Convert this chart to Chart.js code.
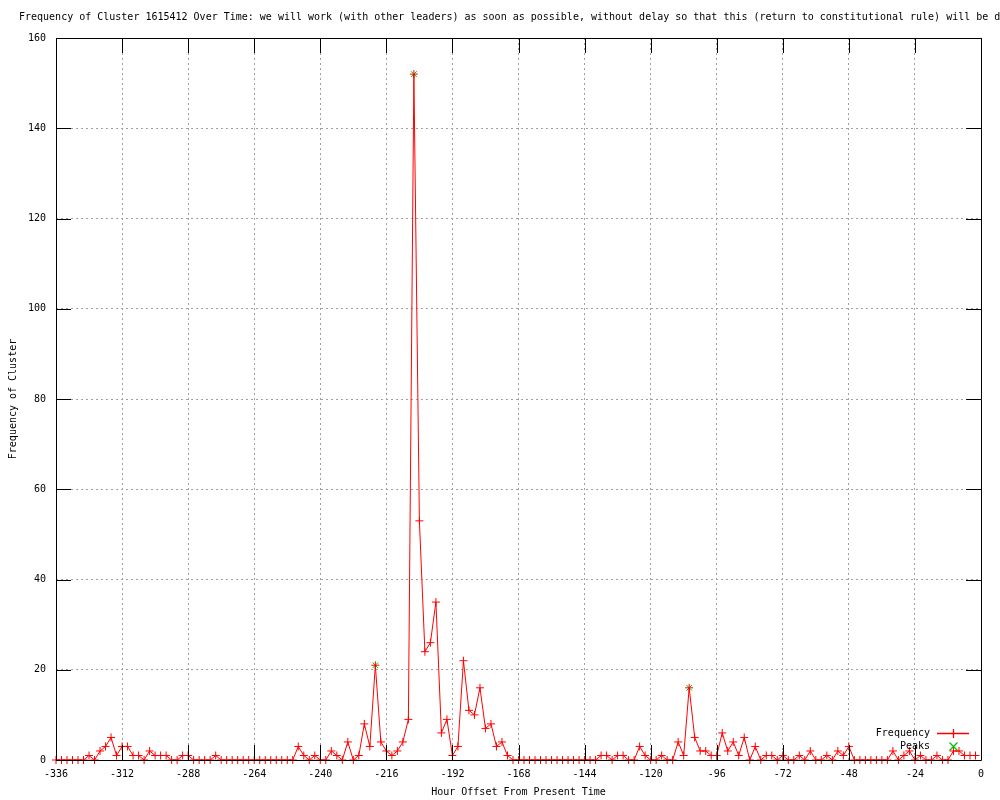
<!DOCTYPE html>
<html>
<head>
<meta charset="utf-8">
<title>Frequency of Cluster 1615412 Over Time</title>
<script src="https://cdn.jsdelivr.net/npm/chart.js@4"></script>
<style>
  html, body { margin: 0; padding: 0; background: #fff; }
  #chart { display: block; }
</style>
</head>
<body>
<canvas id="chart" width="1000" height="800"></canvas>
<script>
// Frequency of cluster, one sample every 2 hours
const hours = [
  -336, -334, -332, -330, -328, -326, -324, -322, -320, -318, -316, -314,
  -312, -310, -308, -306, -304, -302, -300, -298, -296, -294, -292, -290,
  -288, -286, -284, -282, -280, -278, -276, -274, -272, -270, -268, -266,
  -264, -262, -260, -258, -256, -254, -252, -250, -248, -246, -244, -242,
  -240, -238, -236, -234, -232, -230, -228, -226, -224, -222, -220, -218,
  -216, -214, -212, -210, -208, -206, -204, -202, -200, -198, -196, -194,
  -192, -190, -188, -186, -184, -182, -180, -178, -176, -174, -172, -170,
  -168, -166, -164, -162, -160, -158, -156, -154, -152, -150, -148, -146,
  -144, -142, -140, -138, -136, -134, -132, -130, -128, -126, -124, -122,
  -120, -118, -116, -114, -112, -110, -108, -106, -104, -102, -100, -98,
  -96, -94, -92, -90, -88, -86, -84, -82, -80, -78, -76, -74,
  -72, -70, -68, -66, -64, -62, -60, -58, -56, -54, -52, -50,
  -48, -46, -44, -42, -40, -38, -36, -34, -32, -30, -28, -26,
  -24, -22, -20, -18, -16, -14, -12, -10, -8, -6, -4, -2
];
const frequency = [
  0, 0, 0, 0, 0, 0, 1, 0, 2, 3, 5, 1,
  3, 3, 1, 1, 0, 2, 1, 1, 1, 0, 0, 1,
  1, 0, 0, 0, 0, 1, 0, 0, 0, 0, 0, 0,
  0, 0, 0, 0, 0, 0, 0, 0, 3, 1, 0, 1,
  0, 0, 2, 1, 0, 4, 0, 1, 8, 3, 21, 4,
  2, 1, 2, 4, 9, 152, 53, 24, 26, 35, 6, 9,
  1, 3, 22, 11, 10, 16, 7, 8, 3, 4, 1, 0,
  0, 0, 0, 0, 0, 0, 0, 0, 0, 0, 0, 0,
  0, 0, 0, 1, 1, 0, 1, 1, 0, 0, 3, 1,
  0, 0, 1, 0, 0, 4, 1, 16, 5, 2, 2, 1,
  1, 6, 2, 4, 1, 5, 0, 3, 0, 1, 1, 0,
  1, 0, 0, 1, 0, 2, 0, 0, 1, 0, 2, 1,
  3, 0, 0, 0, 0, 0, 0, 0, 2, 0, 1, 2,
  0, 1, 0, 0, 1, 0, 0, 2, 2, 1, 1, 1
];
const peakHours = [-220, -206, -106];
const peakValues = [21, 152, 16];

const xTicks = [-336, -312, -288, -264, -240, -216, -192, -168, -144, -120, -96, -72, -48, -24, 0];
const yTicks = [0, 20, 40, 60, 80, 100, 120, 140, 160];

const titleText = 'Frequency of Cluster 1615412 Over Time: we will work (with other leaders) as soon as possible, without delay so that this (return to constitutional rule) will be done';

const FONT = '"DejaVu Sans Mono", "Liberation Mono", monospace';
const RED = '#ff0000';
const GREEN = '#00c000';

// frame with inward tics like gnuplot
const gnuplotFrame = {
    id: 'gnuplotFrame',
    afterDatasetsDraw(chart) {
        const ctx = chart.ctx;
        const a = chart.chartArea;
        const xs = chart.scales.x;
        const ys = chart.scales.y;
        const tic = 15;
        ctx.save();
        ctx.strokeStyle = '#000';
        ctx.lineWidth = 1;
        ctx.setLineDash([]);
        ctx.beginPath();
        ctx.rect(Math.round(a.left) + 0.5, Math.round(a.top) + 0.5,
                 Math.round(a.right - a.left), Math.round(a.bottom - a.top));
        xTicks.forEach(v => {
            const px = Math.round(xs.getPixelForValue(v)) + 0.5;
            ctx.moveTo(px, a.bottom);
            ctx.lineTo(px, a.bottom - tic);
            ctx.moveTo(px, a.top);
            ctx.lineTo(px, a.top + tic);
        });
        yTicks.forEach(v => {
            const py = Math.round(ys.getPixelForValue(v)) + 0.5;
            ctx.moveTo(a.left, py);
            ctx.lineTo(a.left + tic, py);
            ctx.moveTo(a.right, py);
            ctx.lineTo(a.right - tic, py);
        });
        ctx.stroke();
        ctx.restore();
    },
    afterDraw(chart) {
        const ctx = chart.ctx;
        const a = chart.chartArea;
        ctx.save();
        ctx.font = '10px ' + FONT;
        ctx.fillStyle = '#000';
        ctx.textAlign = 'left';
        ctx.textBaseline = 'middle';
        ctx.fillText(titleText, 19, 17);

        // legend, bottom right inside the plot
        ctx.textAlign = 'right';
        const lx = a.right - 51;
        const sx = Math.round(a.right - 28);
        const y1 = Math.round(a.bottom - 27);
        const y2 = Math.round(a.bottom - 14);
        ctx.fillText('Frequency', lx, y1);
        ctx.fillText('Peaks', lx, y2);

        ctx.setLineDash([]);
        ctx.lineWidth = 1.3;
        ctx.strokeStyle = RED;
        ctx.beginPath();
        ctx.moveTo(Math.round(a.right - 44), y1 + 0.5);
        ctx.lineTo(Math.round(a.right - 12), y1 + 0.5);
        ctx.moveTo(sx + 0.5, y1 - 4);
        ctx.lineTo(sx + 0.5, y1 + 5);
        ctx.stroke();

        ctx.strokeStyle = GREEN;
        ctx.lineWidth = 1.2;
        ctx.beginPath();
        ctx.moveTo(sx - 3.5, y2 - 3.5);
        ctx.lineTo(sx + 4.5, y2 + 4.5);
        ctx.moveTo(sx + 4.5, y2 - 3.5);
        ctx.lineTo(sx - 3.5, y2 + 4.5);
        ctx.stroke();
        ctx.restore();
    }
};

const ctx = document.getElementById('chart').getContext('2d');
new Chart(ctx, {
    type: 'line',
    data: {
        datasets: [{
            label: 'Frequency',
            data: hours.map((h, i) => ({ x: h, y: frequency[i] })),
            borderColor: RED,
            borderWidth: 1,
            pointStyle: 'cross',
            pointRadius: 4,
            pointBorderColor: RED,
            pointBorderWidth: 1,
            pointBackgroundColor: RED,
            tension: 0,
            fill: false,
            clip: false
        }, {
            label: 'Peaks',
            data: peakHours.map((h, i) => ({ x: h, y: peakValues[i] })),
            showLine: false,
            pointStyle: 'crossRot',
            pointRadius: 4,
            pointBorderColor: GREEN,
            pointBorderWidth: 1,
            clip: false
        }]
    },
    options: {
        responsive: false,
        animation: false,
        devicePixelRatio: 1,
        layout: { padding: { top: 38, right: 19, left: 0, bottom: 0 } },
        plugins: {
            legend: { display: false },
            tooltip: { enabled: false },
            title: { display: false }
        },
        scales: {
            x: {
                type: 'linear',
                min: -336,
                max: 0,
                afterBuildTicks: s => { s.ticks = xTicks.map(v => ({ value: v })); },
                afterFit: s => { s.height = 40; },
                grid: { color: '#a0a0a0', lineWidth: 1, drawTicks: false },
                border: { display: false, dash: [2, 3] },
                ticks: {
                    color: '#000',
                    font: { family: FONT, size: 10 },
                    padding: 8,
                    maxRotation: 0,
                    autoSkip: false
                },
                title: {
                    display: true,
                    text: 'Hour Offset From Present Time',
                    color: '#000',
                    font: { family: FONT, size: 10 },
                    padding: { top: 0, bottom: 2 }
                }
            },
            y: {
                min: 0,
                max: 160,
                afterBuildTicks: s => { s.ticks = yTicks.map(v => ({ value: v })); },
                afterFit: s => { s.width = 56; },
                grid: { color: '#a0a0a0', lineWidth: 1, drawTicks: false },
                border: { display: false, dash: [2, 3] },
                ticks: {
                    color: '#000',
                    font: { family: FONT, size: 10 },
                    padding: 10
                },
                title: {
                    display: true,
                    text: 'Frequency of Cluster',
                    color: '#000',
                    font: { family: FONT, size: 10 },
                    padding: { top: 7, bottom: 0 }
                }
            }
        }
    },
    plugins: [gnuplotFrame]
});
</script>
</body>
</html>
